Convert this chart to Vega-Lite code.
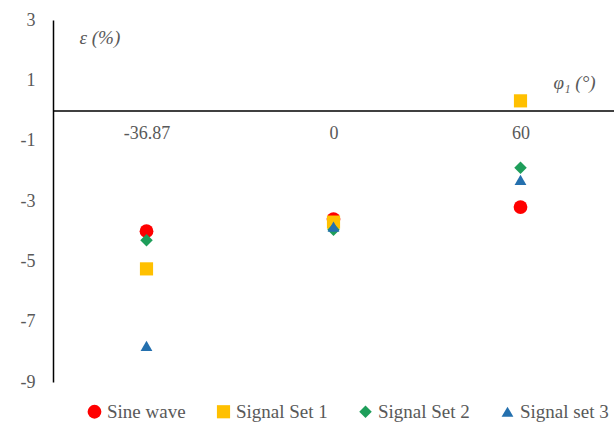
{
  "$schema": "https://vega.github.io/schema/vega-lite/v6.json",
  "width": 561,
  "height": 362,
  "autosize": "none",
  "padding": {"left": 53, "top": 20, "right": 0, "bottom": 41},
  "background": "white",
  "config": {
    "view": {"stroke": null},
    "font": "Liberation Serif"
  },
  "data": {
    "values": [
      {"phi": "-36.87", "series": "Sine wave", "e": -4.0},
      {"phi": "-36.87", "series": "Signal Set 1", "e": -5.25},
      {"phi": "-36.87", "series": "Signal Set 2", "e": -4.3},
      {"phi": "-36.87", "series": "Signal set 3", "e": -7.8},
      {"phi": "0", "series": "Sine wave", "e": -3.6},
      {"phi": "0", "series": "Signal Set 1", "e": -3.7},
      {"phi": "0", "series": "Signal Set 2", "e": -3.95},
      {"phi": "0", "series": "Signal set 3", "e": -3.85},
      {"phi": "60", "series": "Sine wave", "e": -3.2},
      {"phi": "60", "series": "Signal Set 1", "e": 0.32},
      {"phi": "60", "series": "Signal Set 2", "e": -1.9},
      {"phi": "60", "series": "Signal set 3", "e": -2.3}
    ]
  },
  "mark": {"type": "point", "filled": true, "opacity": 1},
  "encoding": {
    "x": {
      "field": "phi",
      "type": "ordinal",
      "sort": ["-36.87", "0", "60"],
      "scale": {"padding": 0.5},
      "axis": {
        "orient": "bottom",
        "offset": -271.5,
        "labelAngle": 0,
        "ticks": false,
        "domainColor": "#000000",
        "domainWidth": 1.5,
        "labelPadding": 14,
        "labelFontSize": 18,
        "labelColor": "#595959",
        "labelFont": "Liberation Serif",
        "title": "φ₁ (°)",
        "titleFont": "Liberation Serif",
        "titleFontStyle": "italic",
        "titleFontWeight": "normal",
        "titleFontSize": 19,
        "titleColor": "#595959",
        "titleAlign": "left",
        "titleAnchor": null,
        "titleX": 500,
        "titleY": -28.5,
        "titleBaseline": "middle"
      }
    },
    "y": {
      "field": "e",
      "type": "quantitative",
      "scale": {"domain": [-9, 3], "nice": false, "zero": false},
      "axis": {
        "values": [-9, -7, -5, -3, -1, 1, 3],
        "labelExpr": "toString(datum.value)",
        "grid": false,
        "ticks": false,
        "domainColor": "#000000",
        "domainWidth": 1.5,
        "labelPadding": 18,
        "labelFontSize": 18,
        "labelColor": "#595959",
        "labelFont": "Liberation Serif",
        "title": "ε (%)",
        "titleFont": "Liberation Serif",
        "titleFontStyle": "italic",
        "titleFontWeight": "normal",
        "titleFontSize": 19,
        "titleColor": "#595959",
        "titleAngle": 0,
        "titleAlign": "left",
        "titleAnchor": null,
        "titleX": 26,
        "titleY": 17,
        "titleBaseline": "middle"
      }
    },
    "color": {
      "field": "series",
      "type": "nominal",
      "sort": null,
      "scale": {"range": ["#FF0000", "#FFC000", "#1E9E5A", "#2470AE"]},
      "legend": {
        "title": null,
        "orient": "none",
        "direction": "horizontal",
        "legendX": 32,
        "legendY": 382,
        "labelFont": "Liberation Serif",
        "labelFontSize": 19,
        "labelColor": "#595959",
        "symbolSize": 70,
        "labelOffset": 3,
        "columnPadding": 28,
        "labelLimit": 200
      }
    },
    "shape": {
      "field": "series",
      "type": "nominal",
      "sort": null,
      "scale": {"range": ["circle", "square", "diamond", "triangle-up"]},
      "legend": {
        "title": null,
        "orient": "none",
        "direction": "horizontal",
        "legendX": 32,
        "legendY": 382,
        "labelFont": "Liberation Serif",
        "labelFontSize": 19,
        "labelColor": "#595959",
        "symbolSize": 70,
        "labelOffset": 3,
        "columnPadding": 28,
        "labelLimit": 200
      }
    },
    "size": {
      "field": "series",
      "type": "nominal",
      "sort": null,
      "scale": {"range": [190, 140, 110, 150]},
      "legend": null
    }
  }
}
